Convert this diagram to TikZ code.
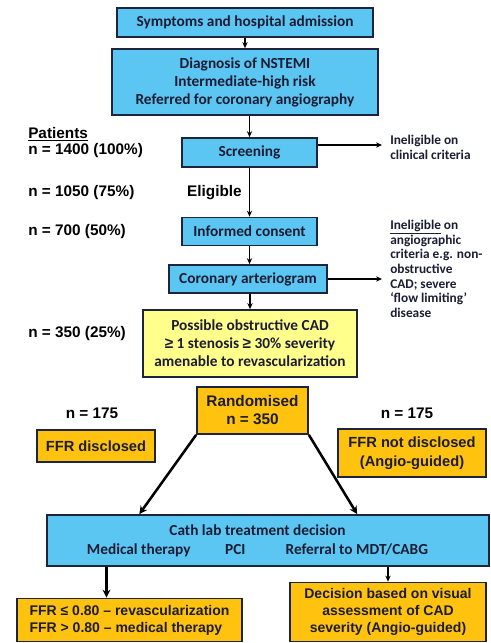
\documentclass[tikz,border=0pt]{standalone}
\usepackage{fontspec}
\setmainfont{Carlito}
\newfontfamily\arialfont{Liberation Sans}
\usepackage{xcolor}
\usetikzlibrary{arrows.meta,calc}

\definecolor{boxblue}{RGB}{92,198,242}
\definecolor{boxyellow}{RGB}{255,255,140}
\definecolor{boxorange}{RGB}{255,194,14}
\definecolor{boxline}{RGB}{30,36,60}
\definecolor{boxtext}{RGB}{28,28,52}

\tikzset{
  bluebox/.style={draw=boxline, line width=1.3pt, fill=boxblue, align=center, inner sep=0pt,
    text=boxtext, font=\bfseries\fontsize{11.5}{13.5}\selectfont},
  yelbox/.style={bluebox, fill=boxyellow},
  orbox/.style={bluebox, fill=boxorange, font=\arialfont\bfseries\fontsize{10.5}{12.75}\selectfont},
  countlbl/.style={anchor=west, inner sep=0pt, text=black, font=\arialfont\bfseries\fontsize{11.5}{13.5}\selectfont},
  sidenote/.style={anchor=west, inner sep=6pt, align=left, text=boxtext, font=\bfseries\fontsize{10}{11}\selectfont},
  flowarr/.style={draw=black, line width=0.9pt, -{Stealth[length=4.5pt,width=4pt]}},
  thickarr/.style={draw=black, line width=1.9pt, -{Stealth[length=6pt,width=6pt]}}
}

\begin{document}
\begin{tikzpicture}[x=0.75pt,y=0.75pt,yscale=-1,xscale=1]
\useasboundingbox (0,0) rectangle (490,643);

% Text Node
\node (sympt) at (245,22.5) [bluebox, minimum width=192pt, minimum height=21.75pt] {Symptoms and hospital admission};
% Text Node
\node (diag) at (245,82) [bluebox, minimum width=199.5pt, minimum height=49.5pt] {Diagnosis of NSTEMI\\Intermediate-high risk\\Referred for coronary angiography};
% Text Node
\node (screen) at (249.5,152.5) [bluebox, minimum width=101.25pt, minimum height=21.75pt] {Screening};
% Text Node
\node (consent) at (249.5,231.5) [bluebox, minimum width=101.25pt, minimum height=21pt] {Informed consent};
% Text Node
\node (arterio) at (248,279) [bluebox, minimum width=118.5pt, minimum height=21pt] {Coronary arteriogram};
% Text Node
\node (cad) at (250,343.5) [yelbox, minimum width=160.5pt, minimum height=50.25pt] {Possible obstructive CAD\\{\arialfont ≥} 1 stenosis {\arialfont ≥} 30\% severity\\amenable to revascularization};
% Text Node
\node (rand) at (252.5,410.5) [orbox, minimum width=83.25pt, minimum height=35.25pt, font=\arialfont\bfseries\fontsize{11.5}{13.5}\selectfont] {Randomised\\n = 350};
% Text Node
\node (ffrd) at (96,446) [orbox, minimum width=88.5pt, minimum height=24pt, font=\arialfont\bfseries\fontsize{11}{13}\selectfont] {FFR disclosed};
% Text Node
\node (ffrnd) at (412,453) [orbox, minimum width=111pt, minimum height=36pt, font=\arialfont\bfseries\fontsize{11}{14}\selectfont] {FFR not disclosed\\(Angio-guided)};
% Text Node
\node (cath) at (268,540.5) [bluebox, minimum width=331.5pt, minimum height=38.25pt] {};
\node (cathtxt) at (257.5,541) [align=center, inner sep=0pt, text=boxtext, font=\bfseries\fontsize{11.5}{14}\selectfont] {Cath lab treatment decision\\Medical therapy\hspace*{26pt}PCI\hspace*{30pt}Referral to MDT/CABG};
% Text Node
\node (ffrle) at (129.5,620) [orbox, minimum width=168.75pt, minimum height=32.25pt, align=left] {FFR ≤ 0.80 – revascularization\\FFR > 0.80 – medical therapy};
% Text Node
\node (visual) at (388,612) [orbox, minimum width=147pt, minimum height=44.25pt] {Decision based on visual\\assessment of CAD\\severity (Angio-guided)};

% Text Node
\node (patients) at (28,134) [countlbl] {\underline{Patients}};
\node (n1400) at (28,151) [countlbl] {n = 1400 (100\%)};
\node (n1050) at (28,193) [countlbl] {n = 1050 (75\%)};
\node (n700) at (28,232) [countlbl] {n = 700 (50\%)};
\node (n350) at (28,334) [countlbl] {n = 350 (25\%)};
\node (elig) at (242,193) [countlbl, anchor=east] {Eligible};
\node (nleft) at (92,413) [countlbl, anchor=center] {n = 175};
\node (nright) at (407,413) [countlbl, anchor=center] {n = 175};
% Text Node
\node (inelclin) at (382,147.5) [sidenote] {Ineligible on\\clinical criteria};
\node (inelang) at (382,269) [sidenote] {\underline{Ineligible} on\\angiographic\\criteria e.g. non-\\obstructive\\CAD; severe\\‘flow limiting’\\disease};

%Straight Lines
\draw [flowarr] (sympt.south) -- (diag.north);
\draw [flowarr] (diag.south -| screen) -- (screen.north);
\draw [flowarr] (screen.south) -- (consent.north);
\draw [flowarr] (consent.south) -- (consent.south |- arterio.north);
\draw [flowarr] (arterio.south -| cad) -- (cad.north);
\coordinate (scrout) at ($(screen.east)+(0,-7.5)$);
\draw [flowarr] (scrout) -- (scrout -| inelclin.west);
\draw [flowarr] (arterio.east) -- (arterio.east -| inelang.west);
%Straight Lines
\draw [thickarr] (rand.south west) -- ($(cath.north west)!0.21!(cath.north east)$);
\draw [thickarr] (rand.south east) -- ($(cath.north west)!0.701!(cath.north east)$);
\coordinate (cathdl) at ($(cath.south west)!0.136!(cath.south east)$);
\draw [thickarr] (cathdl) -- (cathdl |- ffrle.north);
\draw [flowarr, line width=1.3pt] (cath.south -| visual) -- (visual.north);

\end{tikzpicture}
\end{document}
